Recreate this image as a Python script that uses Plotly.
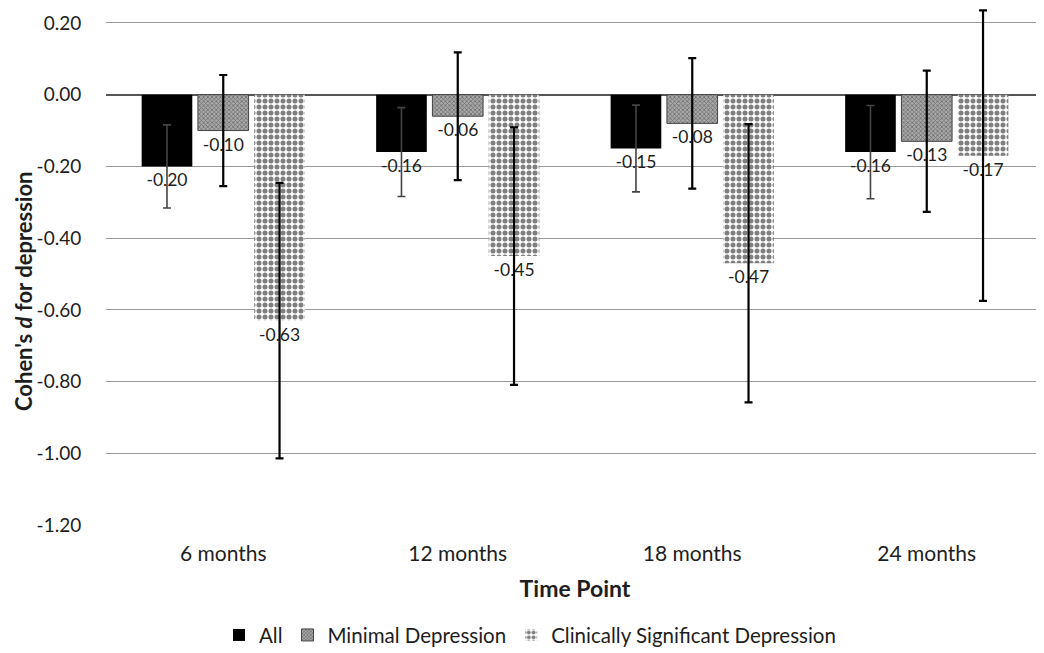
import plotly.graph_objects as go

categories = ["6 months", "12 months", "18 months", "24 months"]
series_names = ["All", "Minimal Depression", "Clinically Significant Depression"]

all_vals = [-0.20, -0.16, -0.15, -0.16]
all_err = [0.116, 0.124, 0.121, 0.130]

minimal_vals = [-0.10, -0.06, -0.08, -0.13]
minimal_err = [0.155, 0.178, 0.182, 0.197]

clinical_vals = [-0.63, -0.45, -0.47, -0.17]
clinical_err = [0.384, 0.359, 0.388, 0.405]

y_ticks = [0.2, 0.0, -0.2, -0.4, -0.6, -0.8, -1.0, -1.2]
y_ticktext = [f"{v:.2f}" for v in y_ticks]

FONT = "Lato"
TXT = "#1e1e1e"

fig = go.Figure()

def labels(vals):
    return [f"{v:.2f}" for v in vals]

fig.add_trace(go.Bar(
    name=series_names[0], x=categories, y=all_vals,
    marker=dict(color="#000000", line=dict(width=0)),
    error_y=dict(type="data", array=all_err, visible=True, color="#444444", thickness=1.6, width=4),
    text=labels(all_vals), textposition="outside",
    textfont=dict(family=FONT, size=17.5, color=TXT),
))
fig.add_trace(go.Bar(
    name=series_names[1], x=categories, y=minimal_vals,
    marker=dict(color="#8c8c8c", line=dict(width=1, color="#444444"),
                pattern=dict(shape="x", fgcolor="#303030", bgcolor="#a8a8a8", size=3, solidity=0.45)),
    error_y=dict(type="data", array=minimal_err, visible=True, color="#000000", thickness=2.2, width=4),
    text=labels(minimal_vals), textposition="outside",
    textfont=dict(family=FONT, size=17.5, color=TXT),
))
fig.add_trace(go.Bar(
    name=series_names[2], x=categories, y=clinical_vals,
    marker=dict(color="#ffffff", line=dict(width=0),
                pattern=dict(shape=".", fgcolor="#000000", bgcolor="#ffffff", size=6, solidity=0.55)),
    error_y=dict(type="data", array=clinical_err, visible=True, color="#000000", thickness=2.2, width=4),
    text=labels(clinical_vals), textposition="outside",
    textfont=dict(family=FONT, size=17.5, color=TXT),
))

fig.add_annotation(
    text="<b>Cohen's <i>d</i> for depression</b>",
    xref="paper", yref="paper", x=-0.0885, y=0.4526,
    xanchor="center", yanchor="middle", textangle=-90, showarrow=False,
    font=dict(family=FONT, size=22, color=TXT),
)

fig.update_layout(
    width=1044, height=653,
    barmode="group", bargap=0.28, bargroupgap=0.1,
    plot_bgcolor="white", paper_bgcolor="white",
    margin=dict(l=98, r=8, t=0, b=136),
    font=dict(family=FONT, size=19, color=TXT),
    showlegend=True,
    legend=dict(orientation="h", x=0.452, xanchor="center", y=-0.213, yanchor="middle",
                font=dict(family=FONT, size=20.5, color=TXT), itemwidth=30,
                traceorder="normal"),
    xaxis=dict(
        title=dict(text="<b>Time Point</b>", font=dict(family=FONT, size=23, color=TXT), standoff=16),
        showgrid=False, showline=False, zeroline=False,
        ticks="outside", ticklen=10, tickcolor="rgba(0,0,0,0)",
        tickfont=dict(family=FONT, size=21, color=TXT),
    ),
    yaxis=dict(
        range=[-1.2, 0.2418], tickvals=y_ticks, ticktext=y_ticktext,
        showgrid=True, gridcolor="#9a9a9a", gridwidth=1.3,
        zeroline=True, zerolinecolor="#555555", zerolinewidth=1.6,
        showline=False,
        ticks="outside", ticklen=20, tickcolor="rgba(0,0,0,0)",
        tickfont=dict(family=FONT, size=19, color=TXT),
    ),
)

fig.write_html("out.html")
